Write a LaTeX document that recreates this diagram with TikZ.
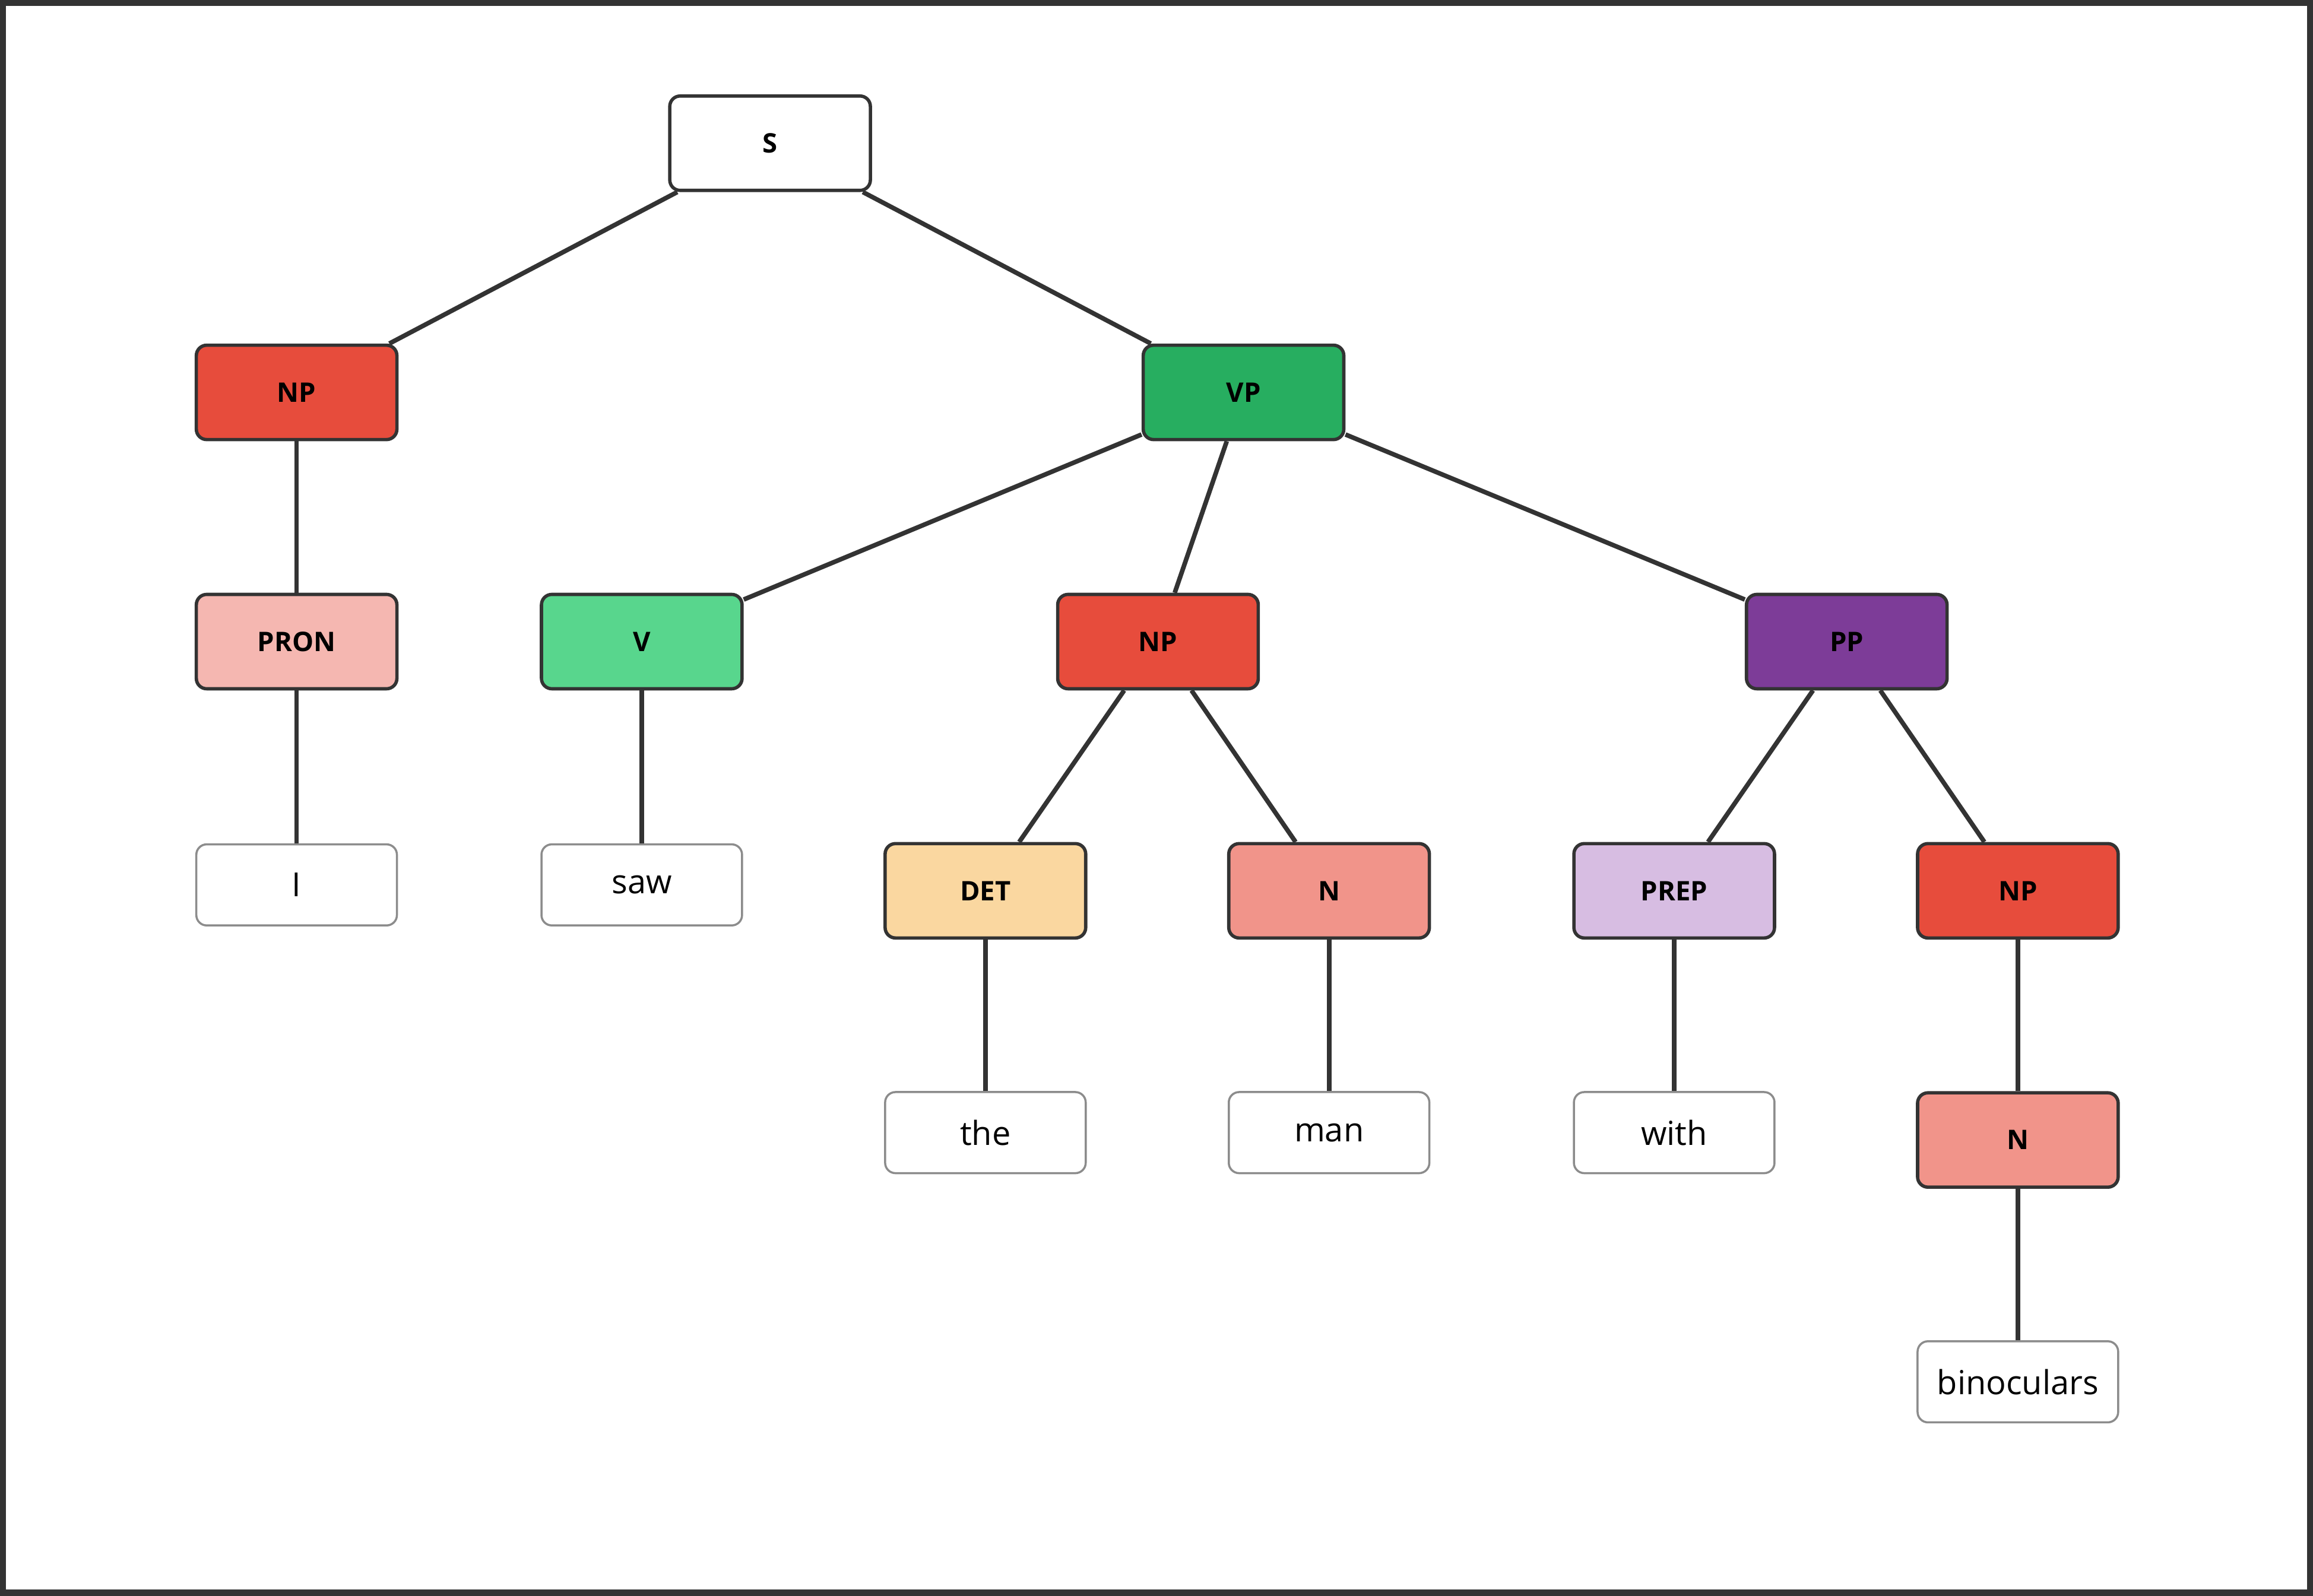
\documentclass[tikz,border=0pt]{standalone}
\usepackage{fontspec}
\setmainfont{Open Sans}
\begin{document}
\begin{tikzpicture}[x=0.025cm,y=-0.025cm,
 cat/.style={draw=black!80,line width=1.6pt,rounded corners=5pt,minimum width=136*0.025cm,minimum height=64*0.025cm,font=\fontsize{13}{15}\selectfont\bfseries,inner sep=0pt},
 leaf/.style={draw=black!45,line width=1pt,rounded corners=5pt,minimum width=136*0.025cm,minimum height=55*0.025cm,font=\fontsize{16}{18}\selectfont,fill=white,inner sep=0pt},
 e/.style={draw=black!80,line width=2.2pt}]
\definecolor{np}{HTML}{E74C3C}\definecolor{vp}{HTML}{27AE60}\definecolor{pron}{HTML}{F5B7B1}
\definecolor{vv}{HTML}{58D68D}\definecolor{pp}{HTML}{7D3C98}\definecolor{det}{HTML}{FAD7A0}
\definecolor{nn}{HTML}{F1948A}\definecolor{prep}{HTML}{D7BDE2}
\draw[draw=black!80,line width=3pt,fill=white] (2,2) rectangle (1566,1080);
\node[cat,fill=white] (S) at (522,97) {S};
\node[cat,fill=np] (NP1) at (201,266) {NP};
\node[cat,fill=vp] (VP) at (843,266) {VP};
\node[cat,fill=pron] (PRON) at (201,435) {PRON};
\node[cat,fill=vv] (V) at (435,435) {V};
\node[cat,fill=np] (NP2) at (785,435) {NP};
\node[cat,fill=pp] (PP) at (1252,435) {PP};
\node[leaf] (I) at (201,600) {I};
\node[leaf] (saw) at (435,600) {saw};
\node[cat,fill=det] (DET) at (668,604) {DET};
\node[cat,fill=nn] (N1) at (901,604) {N};
\node[cat,fill=prep] (PREP) at (1135,604) {PREP};
\node[cat,fill=np] (NP3) at (1368,604) {NP};
\node[leaf] (the) at (668,768) {the};
\node[leaf] (man) at (901,768) {man};
\node[leaf] (with) at (1135,768) {with};
\node[cat,fill=nn] (N2) at (1368,773) {N};
\node[leaf] (bin) at (1368,937) {binoculars};
\begin{scope}[on background layer/.style={}]
\end{scope}
\foreach \a/\b in {S/NP1,S/VP,NP1/PRON,PRON/I,VP/V,VP/NP2,VP/PP,V/saw,NP2/DET,NP2/N1,PP/PREP,PP/NP3,DET/the,N1/man,PREP/with,NP3/N2,N2/bin}
  \draw[e] (\a) -- (\b);
\end{tikzpicture}
\end{document}
